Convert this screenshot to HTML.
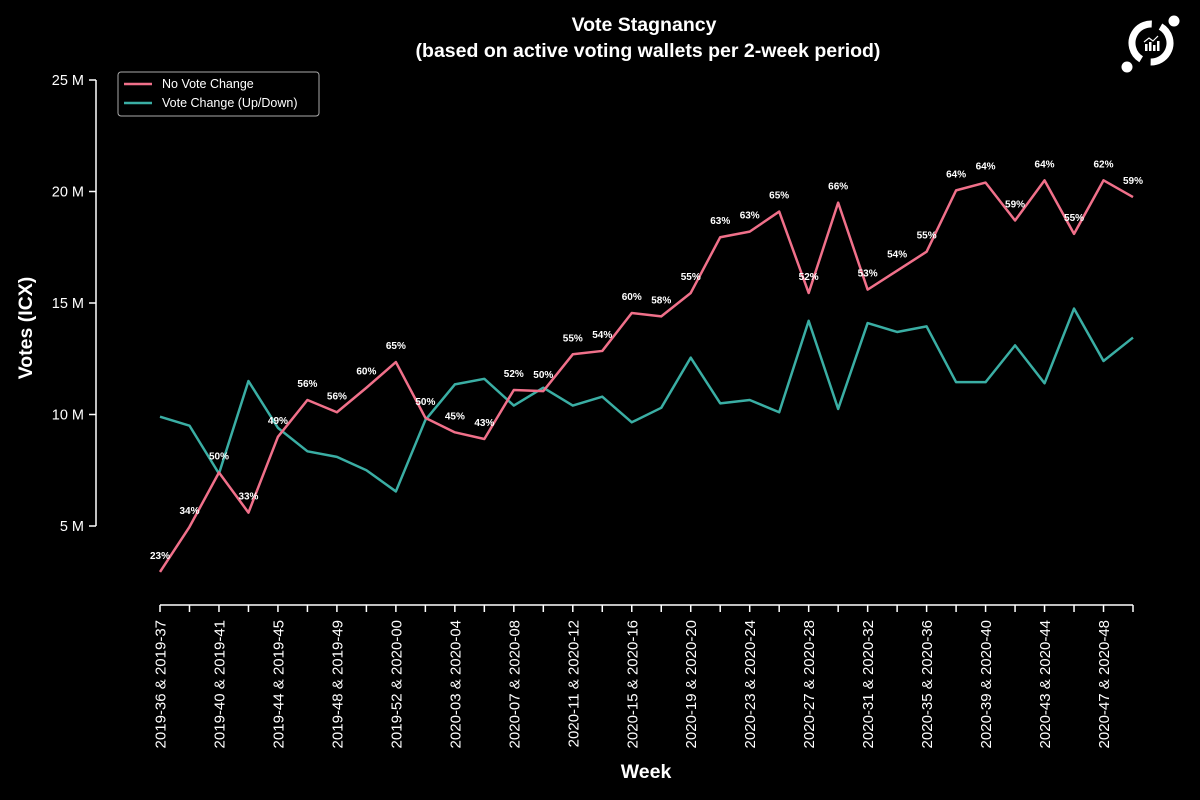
<!DOCTYPE html>
<html><head><meta charset="utf-8"><style>
body{margin:0;background:#000;}
svg{display:block;font-family:"Liberation Sans",sans-serif;}
</style></head><body>
<svg id="chart" width="1200" height="800" viewBox="0 0 1200 800">
<rect width="1200" height="800" fill="#000"/>
<text x="644" y="31" fill="#fff" font-size="19.5" font-weight="bold" text-anchor="middle">Vote Stagnancy</text>
<text x="648" y="57" fill="#fff" font-size="19.5" font-weight="bold" text-anchor="middle">(based on active voting wallets per 2-week period)</text>
<g>
<circle cx="1151" cy="43" r="19" fill="none" stroke="#fff" stroke-width="7" stroke-dasharray="50 10 50 10" transform="rotate(-60 1151 43)"/>
<circle cx="1174" cy="21" r="5.5" fill="#fff"/>
<circle cx="1127" cy="67" r="5.5" fill="#fff"/>
<rect x="1145" y="44" width="2.5" height="7" fill="#fff"/><rect x="1149" y="42" width="2.5" height="9" fill="#fff"/><rect x="1153" y="45" width="2.5" height="6" fill="#fff"/><rect x="1157" y="41" width="2.5" height="10" fill="#fff"/>
<polyline points="1144,42 1149,38 1153,41 1158,36" fill="none" stroke="#fff" stroke-width="1.2"/>
</g>
<text transform="translate(32 328) rotate(-90)" fill="#fff" font-size="19.5" font-weight="bold" text-anchor="middle">Votes (ICX)</text>
<text x="646" y="778" fill="#fff" font-size="19.5" font-weight="bold" text-anchor="middle">Week</text>
<g id="axes"></g>
<g id="series"></g>
<g>
<rect x="118" y="72" width="201" height="44" rx="3" fill="#000" stroke="#aaa" stroke-width="1"/>
<g><line x1="124" y1="84" x2="152" y2="84" stroke="#f0708a" stroke-width="2.5"/><text x="162" y="88" fill="#fff" font-size="12.5">No Vote Change</text></g>
<g><line x1="124" y1="103" x2="152" y2="103" stroke="#3aaea4" stroke-width="2.5"/><text x="162" y="107" fill="#fff" font-size="12.5">Vote Change (Up/Down)</text></g>
</g>
</svg>
<script>
const labels = ["2019-36 & 2019-37","2019-40 & 2019-41","2019-44 & 2019-45","2019-48 & 2019-49","2019-52 & 2020-00","2020-03 & 2020-04","2020-07 & 2020-08","2020-11 & 2020-12","2020-15 & 2020-16","2020-19 & 2020-20","2020-23 & 2020-24","2020-27 & 2020-28","2020-31 & 2020-32","2020-35 & 2020-36","2020-39 & 2020-40","2020-43 & 2020-44","2020-47 & 2020-48"];
const noChange = [2.94,4.96,7.4,5.6,9.0,10.65,10.1,11.2,12.35,9.85,9.2,8.9,11.1,11.05,12.7,12.85,14.55,14.4,15.45,17.95,18.2,19.1,15.45,19.5,15.6,16.45,17.3,20.05,20.4,18.7,20.5,18.1,20.5,19.75];
const change = [9.9,9.5,7.35,11.5,9.4,8.35,8.1,7.5,6.55,9.75,11.35,11.6,10.4,11.2,10.4,10.8,9.65,10.3,12.55,10.5,10.65,10.1,14.2,10.25,14.1,13.7,13.95,11.45,11.45,13.1,11.4,14.75,12.4,13.45];
const pct = [23,34,50,33,49,56,56,60,65,50,45,43,52,50,55,54,60,58,55,63,63,65,52,66,53,54,55,64,64,59,64,55,62,59];
const yTicks = [5,10,15,20,25];

const NS="http://www.w3.org/2000/svg";
const x0=160,x1=1133,n=noChange.length;
const X=i=>x0+i*(x1-x0)/(n-1);
const Y=v=>526-(v-5)*22.3;
function mk(t,a,p){const e=document.createElementNS(NS,t);for(const k in a)e.setAttribute(k,a[k]);p.appendChild(e);return e;}
const axes=document.getElementById('axes'),ser=document.getElementById('series');
const ya=mk('line',{x1:96,y1:Y(25),x2:96,y2:Y(5),stroke:'#fff','stroke-width':1.5},axes);


yTicks.forEach(v=>{
 mk('line',{x1:89,y1:Y(v),x2:96,y2:Y(v),stroke:'#fff','stroke-width':1.5},axes);
 const t=mk('text',{x:84,y:Y(v)+5,fill:'#fff','font-size':14.5,'text-anchor':'end'},axes);
 t.textContent=v+' M';
 
 
});
const xa=mk('line',{x1:x0,y1:605,x2:x1,y2:605,stroke:'#fff','stroke-width':1.5},axes);


for(let i=0;i<n;i++){mk('line',{x1:X(i),y1:605,x2:X(i),y2:612,stroke:'#fff','stroke-width':1.5},axes);}
labels.forEach((l,j)=>{
 const x=X(j*2);
 const t=mk('text',{transform:`translate(${x+5.5} 620) rotate(-90)`,fill:'#fff','font-size':15,'text-anchor':'end'},axes);
 t.textContent=l;
 
 
});
function line(data,color,name){
 const p=mk('polyline',{points:data.map((v,i)=>X(i)+','+Y(v)).join(' '),fill:'none',stroke:color,'stroke-width':2.5,'stroke-linejoin':'round'},ser);
 
 
}
line(change,'#3aaea4','vote-change-line');
line(noChange,'#f0708a','no-vote-change-line');
pct.forEach((p,i)=>{
 const t=mk('text',{x:X(i),y:Y(noChange[i])-13,fill:'#fff','font-size':10,'font-weight':'bold','text-anchor':'middle'},ser);
 t.textContent=p+'%';
 
 
});
</script>
</body></html>
